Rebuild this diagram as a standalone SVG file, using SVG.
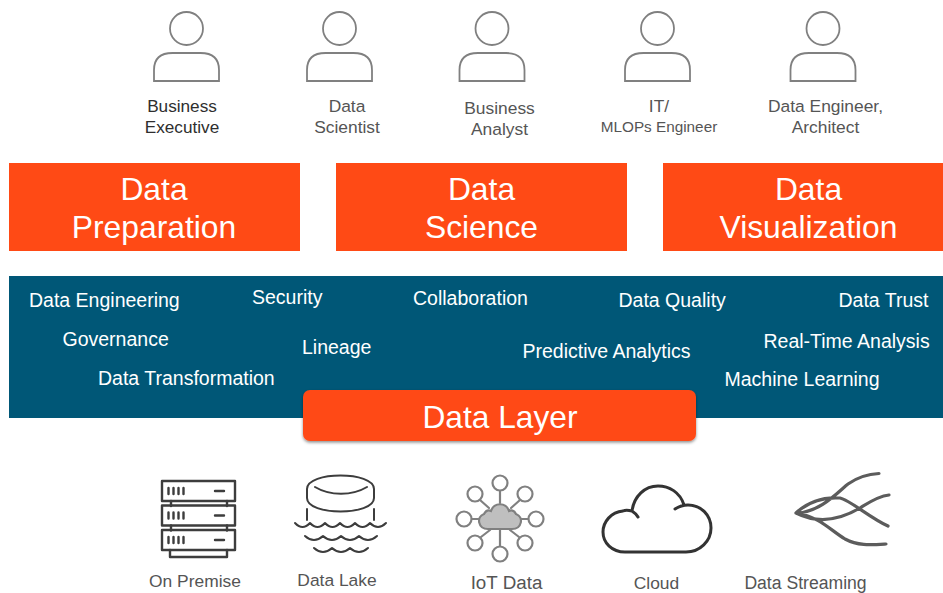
<svg xmlns="http://www.w3.org/2000/svg" width="943" height="593" viewBox="0 0 943 593">
<style>
text{font-family:"Liberation Sans",Arial,sans-serif}
.o{fill:#ff4a15}
.h{fill:#fff;font-size:31.800px;text-anchor:middle}
.t{fill:#fff;font-size:19.500px}
.p{fill:#2e2e2e;font-size:17.200px;text-anchor:middle}
.l{fill:#555;font-size:17.400px;text-anchor:middle}
.u{fill:none;stroke:#808080;stroke-width:1.800}
.i{fill:none;stroke:#3d3d3d;stroke-width:2.400;stroke-linecap:round;stroke-linejoin:round}
.w{fill:none;stroke:#3d3d3d;stroke-width:2;stroke-linecap:round;stroke-linejoin:round}
.n{fill:none;stroke:#808080;stroke-width:2.200;stroke-linecap:round}
.s{fill:none;stroke:#5c5c5c;stroke-width:3.200;stroke-linecap:round}
</style>
<defs>
<g id="person"><circle cx="0" cy="28.500" r="16.500" class="u"/><path class="u" d="M-32.500 81V70Q-32.500 53-14 53H14Q32.500 53 32.500 70V81Z"/></g>
<filter id="sh" x="-5%" y="-20%" width="110%" height="150%"><feDropShadow dx="0" dy="1.500" stdDeviation="1.500" flood-color="#000" flood-opacity=".45"/></filter>
<g id="srv"><rect x="162" y="0" width="73" height="20" class="i"/><path class="i" stroke-width="3" d="M168.500 7v6M173.500 7v6M178.500 7v6M183.500 7v6M215 10h9"/></g>
</defs>
<g id="personas">
<g id="p1"><use href="#person" x="186.500"/><text class="p" x="182" y="112">Business</text><text class="p" x="182" y="133">Executive</text></g>
<g id="p2"><use href="#person" x="339.500"/><text class="l" x="347" y="112">Data</text><text class="l" x="347" y="133">Scientist</text></g>
<g id="p3"><use href="#person" x="492"/><text class="l" x="499.500" y="114">Business</text><text class="l" x="499.500" y="135">Analyst</text></g>
<g id="p4"><use href="#person" x="657.500"/><text class="l" x="659" y="112">IT/</text><text class="l" x="659" y="132" style="font-size:15.300px">MLOPs Engineer</text></g>
<g id="p5"><use href="#person" x="823"/><text class="l" x="825.500" y="112">Data Engineer,</text><text class="l" x="825.500" y="133">Architect</text></g>
</g>
<g id="prep"><rect class="o" x="9" y="163" width="291" height="88"/><text class="h" x="154" y="200">Data</text><text class="h" x="154" y="238">Preparation</text></g>
<g id="science"><rect class="o" x="336" y="163" width="291" height="88"/><text class="h" x="481.500" y="200">Data</text><text class="h" x="481.500" y="238">Science</text></g>
<g id="viz"><rect class="o" x="663" y="163" width="280" height="88"/><text class="h" x="808.500" y="200">Data</text><text class="h" x="808.500" y="238">Visualization</text></g>
<g id="band"><rect x="9" y="276" width="934" height="142" fill="#005777"/>
<text class="t" x="29" y="307">Data Engineering</text>
<text class="t" x="252" y="304">Security</text>
<text class="t" x="413" y="305">Collaboration</text>
<text class="t" x="618.500" y="307">Data Quality</text>
<text class="t" x="838.500" y="307">Data Trust</text>
<text class="t" x="62.500" y="346">Governance</text>
<text class="t" x="302" y="354">Lineage</text>
<text class="t" x="522.500" y="358">Predictive Analytics</text>
<text class="t" x="763.500" y="348">Real-Time Analysis</text>
<text class="t" x="98" y="385">Data Transformation</text>
<text class="t" x="724.500" y="386">Machine Learning</text>
</g>
<g id="layer"><rect class="o" x="303" y="390" width="393" height="51" rx="7" filter="url(#sh)"/><text x="500" y="428" text-anchor="middle" fill="#fff" font-size="31.700">Data Layer</text></g>
<g id="onprem"><use href="#srv" y="481"/><use href="#srv" y="505.500"/><use href="#srv" y="530"/>
<path class="i" d="M171 501v5M227 501v5M171 525.500v5M227 525.500v5M170 550v7H227V550"/><text class="l" x="195" y="587">On Premise</text></g>
<g id="lake"><path class="w" d="M307 489C307 471 374 471 374 489V498C374 516 307 516 307 498ZM315 487C330 496 352 496 367 487M307 509v11M374 509v11"/>
<path class="w" d="M295 523q7.500 8 15 0q7.500 8 15 0q7.500 8 15 0q7.500 8 15 0q7.500 8 15 0q8 8 16 0M305 536q9 8 18 0q9 8 18 0q9 8 18 0q9 8 18 0M314 548q9 8 18 0q9 8 18 0q9 8 18 0"/>
<text class="l" x="337" y="586">Data Lake</text></g>
<g id="iot"><g class="n"><circle cx="500" cy="483" r="7.500"/><circle cx="475" cy="494" r="7.500"/><circle cx="525" cy="494" r="7.500"/><circle cx="464" cy="519" r="7.500"/><circle cx="536" cy="519" r="7.500"/><circle cx="475" cy="543" r="7.500"/><circle cx="525" cy="543" r="7.500"/><circle cx="500" cy="554" r="7.500"/>
<path d="M500 491v12M480 500l9 8M520 500l-9 8M472 519h8M520 519h8M481 537l9-7M519 537l-9-7M500 530v16"/></g>
<path fill="#bfbfbf" stroke="#808080" stroke-width="2.200" d="M488 529H512C522 529 524 517 516 514C514 510 511 510 509 511C506 502 494 502 491 511C489 510 486 510 484 514C476 517 478 529 488 529Z"/>
<text class="l" x="506.500" y="589" style="font-size:18.800px">IoT Data</text></g>
<g id="cloud"><path fill="none" stroke="#333" stroke-width="3" stroke-linecap="round" stroke-linejoin="round" d="M638 552H686C700 552 711 541 711 528C711 515 701 505 688 505C682 505 678 507 675 509M684 505C680 492 669 486 658 486C645 486 634 496 632 511C635 513 637 515 638 517M632 511C628 510 625 510 623 511C611 512 603 522 603 532C603 543 612 552 625 552H638"/><text class="l" x="656.500" y="589">Cloud</text></g>
<g id="stream"><path class="s" d="M796 513C820 513 840 490 848 484C858 477 868 474 879 473.500M796 513C810 500 825 497 840 498C850 500 870 518 888 526M796 513C818 524 840 520 860 508C868 503 878 496 889 495M796 513C820 517 830 530 845 539C858 546 870 545 886 544"/><text class="l" x="805.500" y="589" style="font-size:17.600px">Data Streaming</text></g>
</svg>
